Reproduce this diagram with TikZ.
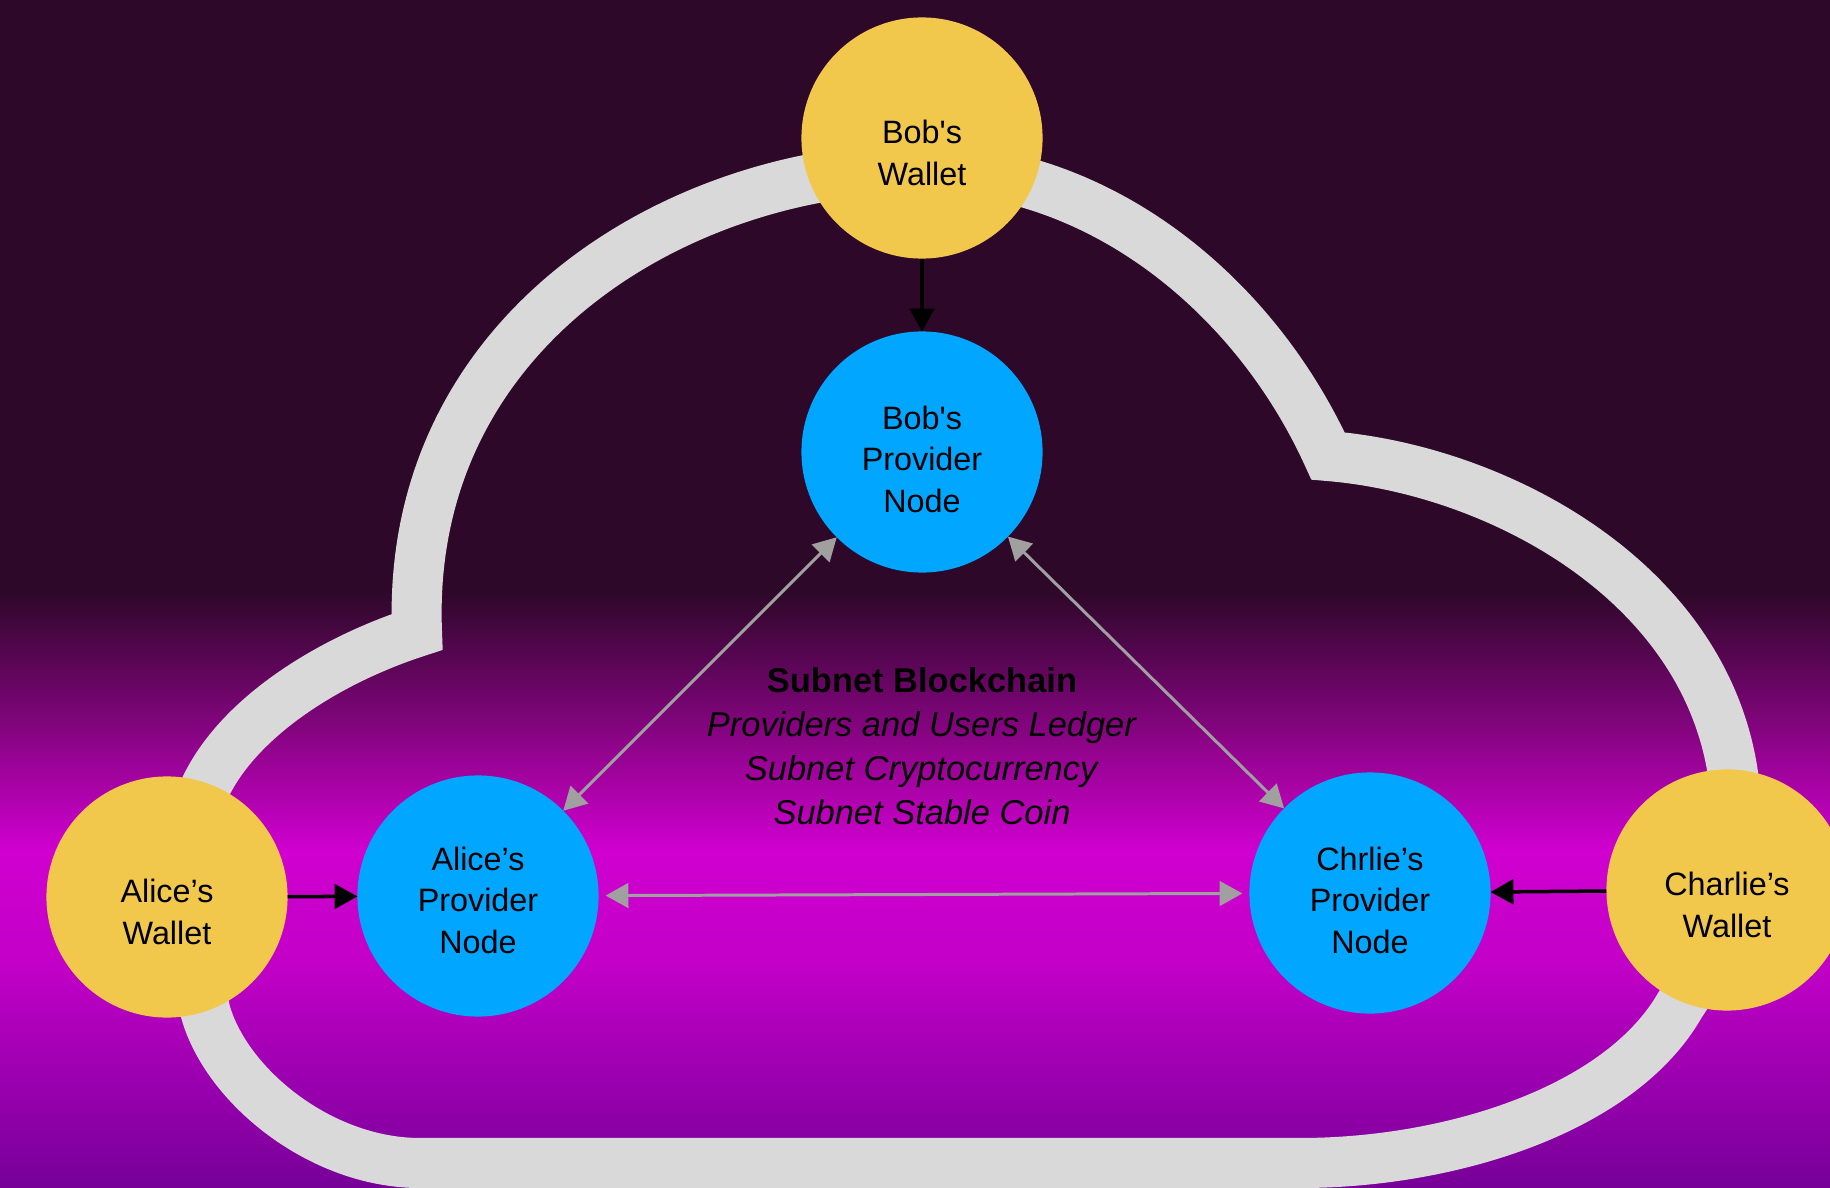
\documentclass[tikz,border=0pt]{standalone}
\usepackage{fontspec}
\setmainfont{Liberation Sans}
\usetikzlibrary{arrows.meta}

\definecolor{bgtop}{RGB}{45,8,40}
\definecolor{bgmid}{RGB}{140,4,135}
\definecolor{bgmag}{RGB}{208,0,208}
\definecolor{bgmagb}{RGB}{195,0,200}
\definecolor{bgbot}{RGB}{118,0,152}
\definecolor{cloudgray}{RGB}{217,217,217}
\definecolor{walletyellow}{RGB}{242,200,76}
\definecolor{nodeblue}{RGB}{0,166,255}
\definecolor{linkgray}{RGB}{160,160,160}

\newcommand\nodefont{\fontsize{9.2}{11.8}\selectfont}
\newcommand\ledgerfont{\fontsize{9.8}{12.5}\selectfont}

\begin{document}
\begin{tikzpicture}[
  x=0.01cm, y=-0.01cm,
  wallet/.style={circle, fill=walletyellow, minimum size=2.41cm, inner sep=0pt, outer sep=0pt},
  provider/.style={circle, fill=nodeblue, minimum size=2.41cm, inner sep=0pt, outer sep=0pt},
  nodetext/.style={align=center, font=\nodefont, text=black, inner sep=0pt},
  cloudline/.style={draw=cloudgray, line width=0.5cm, line join=miter},
  fundarrow/.style={draw=black, line width=1pt, -{Triangle[length=6.5pt,width=7pt]}},
  linkarrow/.style={draw=linkgray, line width=0.85pt,
    {Triangle[length=6.5pt,width=7pt]}-{Triangle[length=6.5pt,width=7pt]}},
]
\useasboundingbox (0,0) rectangle (1830,1188);
\clip (0,0) rectangle (1830,1188);

% background: dark plum on top, fading into magenta, then violet
\fill[bgtop] (0,0) rectangle (1830,591);
\shade[top color=bgtop, bottom color=bgmid] (0,590) rectangle (1830,741);
\shade[top color=bgmid, bottom color=bgmag] (0,740) rectangle (1830,851);
\shade[top color=bgmag, bottom color=bgmagb] (0,850) rectangle (1830,961);
\shade[top color=bgmagb, bottom color=bgbot] (0,960) rectangle (1830,1188);

% the subnet cloud
\draw[cloudline] (417,632) .. controls (405,330) and (680,168) .. (922,168)
  .. controls (1100,168) and (1255,295) .. (1328,456)
  .. controls (1500,470) and (1715,585) .. (1735,790)
  .. controls (1745,890) and (1710,960) .. (1680,1005)
  .. controls (1620,1110) and (1450,1163) .. (1300,1163)
  -- (420,1163)
  .. controls (320,1163) and (225,1085) .. (205,1010)
  .. controls (195,950) and (195,860) .. (200,800)
  .. controls (230,720) and (330,660) .. (417,632)
  -- cycle;

% wallets and provider nodes
\node[wallet] (bobw) at (922,138) {};
\node[provider] (bobp) at (922,452) {};
\node[wallet] (alicew) at (167,897) {};
\node[provider] (alicep) at (478,896) {};
\node[provider] (chrliep) at (1370,893) {};
\node[wallet] (charliew) at (1727,890) {};

\node[nodetext] (bobwt) at (922,153) {Bob\textquotesingle s\\Wallet};
\node[nodetext] (bobpt) at (922,459) {Bob\textquotesingle s\\Provider\\Node};
\node[nodetext] (alicewt) at (167,912) {Alice’s\\Wallet};
\node[nodetext] (alicept) at (478,900) {Alice’s\\Provider\\Node};
\node[nodetext] (chrliept) at (1370,900) {Chrlie’s\\Provider\\Node};
\node[nodetext] (charliewt) at (1727,905) {Charlie’s\\Wallet};

% ledger description
\node[align=center, font=\ledgerfont, text=black, inner sep=0pt] (ledger) at (922,746)
  {\textbf{Subnet Blockchain}\\\textit{Providers and Users Ledger}\\
   \textit{Subnet Cryptocurrency}\\\textit{Subnet Stable Coin}};

% funding arrows
\draw[fundarrow] (bobw) -- (bobp);
\draw[fundarrow] (alicew) -- (alicep);
\draw[fundarrow] (charliew) -- (chrliep);

% peer links between provider nodes
\draw[linkarrow] (bobp) -- (alicep);
\draw[linkarrow] (bobp) -- (chrliep);
\draw[linkarrow, shorten <=2pt, shorten >=2pt] (alicep) -- (chrliep);
\end{tikzpicture}
\end{document}
